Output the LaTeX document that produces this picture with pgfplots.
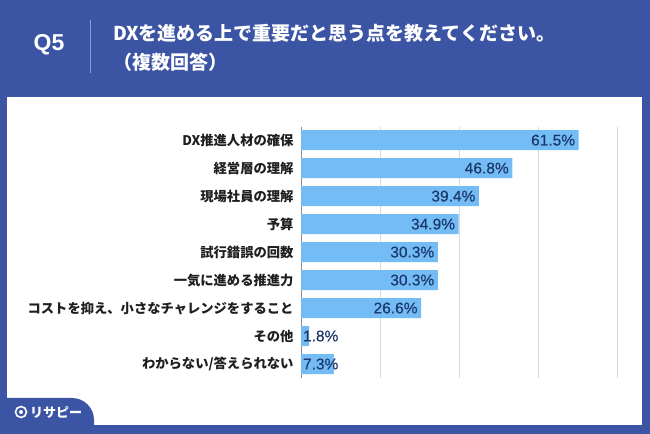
\documentclass[border=0pt]{standalone}
\usepackage{fontspec}
\setmainfont{Noto Sans CJK JP}
\newfontfamily\numfont[FakeBold=0.25]{Liberation Sans}
\newfontfamily\qfont{Liberation Sans}
\usepackage{pgfplots}
\pgfplotsset{compat=1.18}
\definecolor{bgblue}{RGB}{59,85,164}
\definecolor{barblue}{RGB}{115,188,246}
\definecolor{labblue}{RGB}{28,55,105}
\definecolor{sepline}{RGB}{140,158,210}
\begin{document}
\begin{tikzpicture}
\fill[bgblue] (0,0) rectangle (650bp,434bp);
\fill[white] (7bp,9bp) rectangle (642bp,337bp);
\fill[bgblue] (0bp,0bp) -- (0bp,36bp) -- (72bp,36bp) arc[start angle=90,end angle=0,radius=22bp] -- (94bp,0bp) -- cycle;
% logo
\draw[white, line width=1.6bp] (21bp,22bp) circle (5.5bp);
\fill[white] (21bp,22bp) circle (2bp);
\node[anchor=west, text=white, font=\bfseries\fontsize{13bp}{15bp}\selectfont, inner sep=0pt] at (30bp,21bp) {リサピー};
% header
\node[text=white, font=\qfont\bfseries\fontsize{23bp}{26bp}\selectfont] at (49bp,389bp) {Q5};
\draw[sepline, line width=0.8bp] (90bp,414bp) -- (90bp,361bp);
\node[anchor=west, text=white, font=\bfseries\fontsize{19bp}{22bp}\selectfont, inner sep=0pt] at (113bp,401bp) {DXを進める上で重要だと思う点を教えてください。};
\node[anchor=west, text=white, font=\bfseries\fontsize{19bp}{22bp}\selectfont, inner sep=0pt] at (113bp,372bp) {（複数回答）};
\begin{axis}[
  at={(301bp,56bp)}, anchor=south west,
  scale only axis, width=316bp, height=251bp,
  xmin=0, xmax=70, ymin=-0.47, ymax=8.5, y dir=reverse,
  axis line style={draw=none},
  xtick={17.5,35,52.5,70}, xticklabels={},
  xmajorgrids, grid style={black!15, line width=0.8bp},
  major tick length=0,
  extra x ticks={0}, extra x tick labels={},
  extra x tick style={grid style={black!45, line width=1bp}},
  ytick={0,...,8},
  yticklabels={DX推進人材の確保,経営層の理解,現場社員の理解,予算,試行錯誤の回数,一気に進める推進力,コストを抑え、小さなチャレンジをすること,その他,わからない/答えられない},
  yticklabel style={font=\bfseries\fontsize{13.3bp}{15bp}\selectfont, text=black!88, xshift=-4bp},
  clip=false,
]
\addplot[xbar, bar width=20bp, fill=barblue, draw=none] coordinates {
 (61.5,0) (46.8,1) (39.4,2) (34.9,3) (30.3,4) (30.3,5) (26.6,6) (1.8,7) (7.3,8)};
\addplot[draw=none, mark=none, point meta=explicit symbolic,
  nodes near coords={\pgfplotspointmeta},
  every node near coord/.append style={anchor=east, text=labblue, font=\numfont\fontsize{15.5bp}{17bp}\selectfont, xshift=0bp}]
 coordinates {(61.5,0) [61.5\%] (46.8,1) [46.8\%] (39.4,2) [39.4\%] (34.9,3) [34.9\%] (30.3,4) [30.3\%] (30.3,5) [30.3\%] (26.6,6) [26.6\%]};
\addplot[draw=none, mark=none, point meta=explicit symbolic,
  nodes near coords={\pgfplotspointmeta},
  every node near coord/.append style={anchor=west, text=labblue, font=\numfont\fontsize{15.5bp}{17bp}\selectfont, xshift=-1.5bp}]
 coordinates {(0,7) [1.8\%] (0,8) [7.3\%]};
\end{axis}
\end{tikzpicture}
\end{document}
